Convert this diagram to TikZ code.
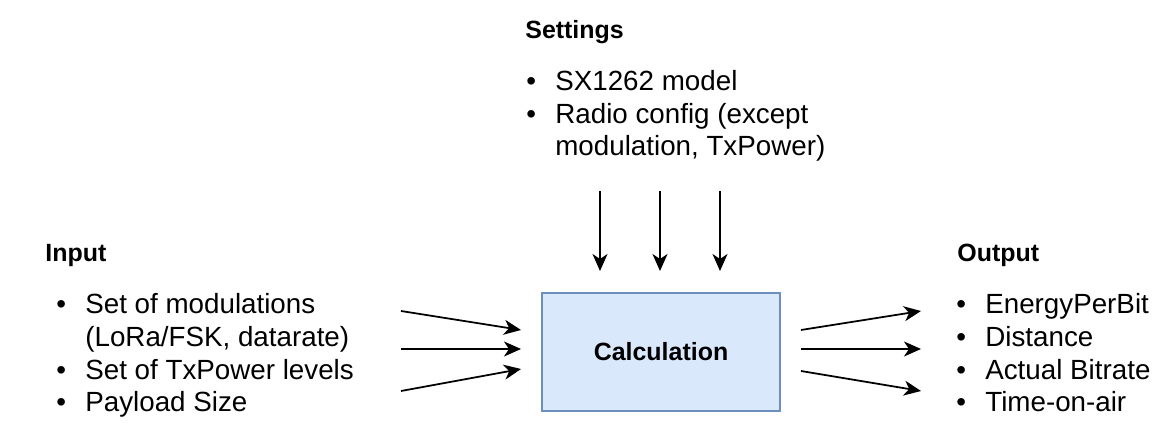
\documentclass[tikz,border=0pt]{standalone}
\usepackage{fontspec}
\setmainfont{Liberation Sans}
\usetikzlibrary{arrows.meta,positioning}
\definecolor{calcfill}{HTML}{DAE8FC}
\definecolor{calcline}{HTML}{6C8EBF}
\newcommand{\itm}{\makebox[0.58cm][l]{\textbullet}}
\newcommand{\cnt}{\hspace*{0.58cm}}
\tikzset{
	heading/.style={anchor=base west, inner sep=0pt, 
		font=\bfseries\fontsize{14.2}{17}\selectfont},
	bulletlist/.style={anchor=base west, inner sep=0pt, align=left, 
		font=\fontsize{15.8}{18.6}\selectfont},
	calcbox/.style={rectangle, draw=calcline, fill=calcfill, line width=1pt, 
		minimum width=4.76cm, minimum height=2.36cm, 
		font=\bfseries\fontsize{14.2}{17}\selectfont},
	flow/.style={-{Stealth[length=0.34cm,width=0.3cm,inset=0.1cm]}, line width=1pt}
}

\begin{document}
\begin{tikzpicture}[x=0.02cm, y=-0.02cm]
			\useasboundingbox (0,0) rectangle (1172,448);
			
			\node[calcbox] (calc) at (661,352) {Calculation};
			
			% lists are placed by the baseline of their last line
			\node[heading] (settings) at (525,39) {Settings};
			\node[bulletlist] (setlist) at (526,156) {\itm SX1262 model\\
				\itm Radio config (except\\
				\cnt modulation, TxPower)};
			
			\node[heading] (input) at (45,262) {Input};
			\node[bulletlist] (inlist) at (56,412) {\itm Set of modulations\\
				\cnt (LoRa/FSK, datarate)\\
				\itm Set of TxPower levels\\
				\itm Payload Size};
			
			\node[heading] (output) at (957,262) {Output};
			\node[bulletlist] (outlist) at (956,412) {\itm EnergyPerBit\\
				\itm Distance\\
				\itm Actual Bitrate\\
				\itm Time-on-air};
			
			% arrow ends
			\coordinate (s1) at (600,191); \coordinate (s1e) at (600,271);
			\coordinate (s2) at (660,191); \coordinate (s2e) at (660,271);
			\coordinate (s3) at (720,191); \coordinate (s3e) at (720,271);
			\coordinate (i1) at (401,311); \coordinate (i1e) at (521,330);
			\coordinate (i2) at (401,349); \coordinate (i2e) at (521,349);
			\coordinate (i3) at (401,391); \coordinate (i3e) at (521,369);
			\coordinate (o1) at (801,330); \coordinate (o1e) at (921,311);
			\coordinate (o2) at (801,349); \coordinate (o2e) at (921,349);
			\coordinate (o3) at (801,371); \coordinate (o3e) at (921,391);
			
			\draw[flow] (s1) -- (s1e);
			\draw[flow] (s2) -- (s2e);
			\draw[flow] (s3) -- (s3e);
			\draw[flow] (i1) -- (i1e);
			\draw[flow] (i2) -- (i2e);
			\draw[flow] (i3) -- (i3e);
			\draw[flow] (o1) -- (o1e);
			\draw[flow] (o2) -- (o2e);
			\draw[flow] (o3) -- (o3e);
		\end{tikzpicture}
\end{document}
